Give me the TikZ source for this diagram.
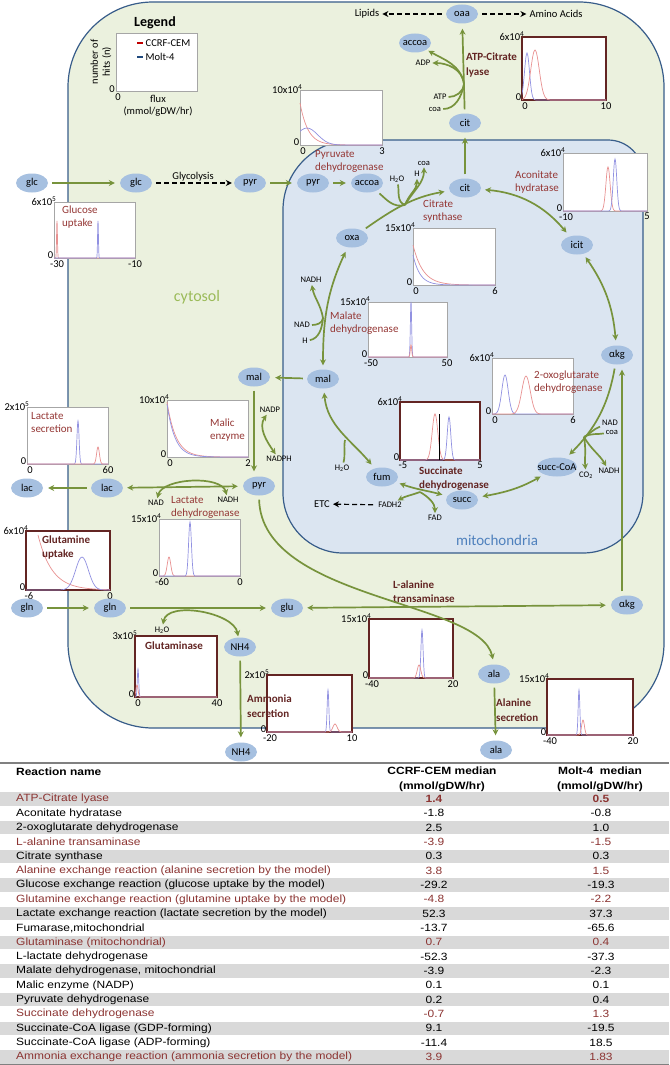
\documentclass[tikz,border=0pt]{standalone}
\usepackage{fontspec}
\setmainfont{Carlito}
\newfontfamily\tablefont[FakeStretch=1.14]{Liberation Sans}
\usetikzlibrary{shapes.geometric,arrows.meta}
\definecolor{cytofill}{RGB}{235,241,222}
\definecolor{mitofill}{RGB}{219,229,241}
\definecolor{membrane}{RGB}{56,93,138}
\definecolor{metabblue}{RGB}{166,192,224}
\definecolor{fluxgreen}{RGB}{119,147,60}
\definecolor{enzred}{RGB}{149,55,53}
\definecolor{boxred}{RGB}{99,37,35}
\definecolor{plotred}{RGB}{232,145,145}
\definecolor{plotblue}{RGB}{145,145,225}
\definecolor{cytogreen}{RGB}{155,187,89}
\definecolor{mitoblue}{RGB}{79,129,189}
\definecolor{rowgray}{RGB}{217,217,217}
\definecolor{rowred}{RGB}{140,52,50}
\definecolor{legred}{RGB}{192,0,0}
\definecolor{legblue}{RGB}{31,73,125}
\newcommand\tenpow[1]{x10\textsuperscript{#1}}
\newcommand\fluxplot[9]{%
  \draw[#1] (#3,#4) rectangle (#5,#6);
  \node (#2-ymax) [tick, anchor=east] at (#3+3,#4-1) {#7};
  \node (#2-zero) [tick, anchor=east] at (#3,#6-3) {0};
  \node (#2-xmin) [tick, anchor=north] at (#3+3,#6+1.5) {#8};
  \node (#2-xmax) [tick, anchor=north] at (#5,#6+1.5) {#9};
}
\newcommand\peak[7]{%
  \pgfmathsetmacro\pka{#5-3.5*#6}%
  \pgfmathsetmacro\pkb{#5+3.5*#6}%
  \begin{scope}
    \clip (#2,#4-90) rectangle (#3,#4+1);
    \draw[#1] (#2,#4) -- (\pka,#4) -- plot[domain=\pka:\pkb, samples=41, smooth]
      (\x,{#4-#7*exp(-((\x-#5)/#6)*((\x-#5)/#6))}) -- (#3,#4);
  \end{scope}
}
\newcommand\decay[6]{%
  \draw[#1] plot[domain=#2:#3, samples=60, smooth] (\x,{#4-#5*exp(-(\x-#2)/#6)});
}
\tikzset{
  metab/.style={ellipse, fill=metabblue, minimum width=32pt, minimum height=19pt,
    inner xsep=-2pt, inner ysep=0pt, font=\fontsize{10.5}{12}\selectfont},
  cofactor/.style={inner sep=1pt, font=\fontsize{8.5}{10}\selectfont},
  sidetext/.style={inner sep=1pt, font=\fontsize{10.5}{12}\selectfont},
  enzyme/.style={align=left, anchor=west, inner sep=0pt, text=enzred,
    font=\fontsize{11}{13.5}\selectfont},
  enzymebold/.style={enzyme, text=boxred, font=\fontsize{11}{14.5}\selectfont\bfseries},
  tick/.style={inner sep=0.5pt, font=\fontsize{10.5}{12}\selectfont},
  plotframe/.style={draw=gray!70, fill=white, line width=0.6pt},
  plotframebold/.style={draw=boxred, fill=white, line width=2pt},
  redline/.style={draw=plotred, line width=0.7pt},
  blueline/.style={draw=plotblue, line width=0.7pt},
  flux/.style={draw=fluxgreen, line width=1.7pt, shorten >=5pt, shorten <=4pt},
  dasharrow/.style={->, draw=black, line width=1.2pt, dash pattern=on 5pt off 3pt,
    shorten >=2pt, shorten <=4pt},
  tabletext/.style={inner sep=0pt, font=\tablefont\fontsize{10.5}{12}\selectfont},
  tablehead/.style={inner sep=0pt, font=\tablefont\fontsize{10.5}{15}\selectfont\bfseries}
}

\begin{document}
\begin{tikzpicture}[x=1pt, y=-1pt, >={Stealth[length=6pt,width=6pt]}]
  \useasboundingbox (0,0) rectangle (669,1065);
  \fill[white] (0,0) rectangle (669,1065);

  \draw[draw=membrane, fill=cytofill, line width=1.2pt, rounded corners=85pt]
    (68,2) rectangle (664,728);
  \path[draw=membrane, fill=mitofill, line width=1.2pt]
    (283,350) [rounded corners=70pt] |- (460,140) [rounded corners=35pt] -| (643,350)
    [rounded corners=60pt] |- (460,553) [rounded corners=60pt] -| (283,350) -- cycle;
  \node (cytolabel) [text=cytogreen, font=\fontsize{16}{18}\selectfont] at (197,297) {cytosol};
  \node (mitolabel) [text=mitoblue, font=\fontsize{15}{18}\selectfont] at (497,540) {mitochondria};

  \node (legtitle) [font=\fontsize{14}{16}\selectfont\bfseries] at (155,23) {Legend};
  \draw[plotframe] (116,33) rectangle (197,91);
  \draw[legred, line width=1.3pt] (137,43) -- (143,43);
  \draw[legblue, line width=1.3pt] (137,57) -- (143,57);
  \node (legcem) [tick, anchor=west] at (145,43) {CCRF-CEM};
  \node (legmolt) [tick, anchor=west] at (145,57) {Molt-4};
  \node (leghits) [tick, rotate=90, align=center] at (101,62) {number of\\hits (n)};
  \node (legzeroy) [tick] at (112,89) {0};
  \node (legzerox) [tick] at (118,97) {0};
  \node (legflux) [tick, align=center] at (158,106) {flux\\(mmol/gDW/hr)};

  \fluxplot{plotframe}{pdh}{300}{90}{382}{145}{10\tenpow{4}}{0}{3}
  \decay{redline}{300}{382}{145}{42}{8}
  \peak{blueline}{300}{382}{145}{307}{15}{17}
  \fluxplot{plotframebold}{acl}{522}{37}{606}{100}{6\tenpow{4}}{0}{10}
  \peak{blueline}{522}{606}{100}{527}{3.5}{47}
  \peak{redline}{522}{606}{100}{535}{6}{50}
  \fluxplot{plotframe}{aco}{563}{153}{647}{211}{6\tenpow{4}}{-10}{5}
  \peak{redline}{563}{647}{211}{608}{3}{44}
  \peak{blueline}{563}{647}{211}{615}{2.5}{52}
  \fluxplot{plotframe}{cs}{413}{228}{495}{285}{15\tenpow{4}}{0}{6}
  \decay{redline}{413}{495}{285}{40}{10}
  \decay{blueline}{413}{495}{285}{30}{7}
  \fluxplot{plotframe}{mdh}{368}{302}{447}{357}{15\tenpow{4}}{-50}{50}
  \peak{blueline}{368}{447}{357}{411}{0.9}{55}
  \peak{redline}{368}{447}{357}{411}{1}{12}
  \fluxplot{plotframe}{akgdh}{492}{358}{573}{414}{6\tenpow{4}}{0}{6}
  \peak{blueline}{492}{573}{414}{505}{4.5}{39}
  \peak{redline}{492}{573}{414}{526}{6}{38}
  \fluxplot{plotframebold}{sdh}{400}{402}{480}{460}{6\tenpow{4}}{-5}{5}
  \peak{redline}{400}{480}{460}{435}{4}{46}
  \peak{blueline}{400}{480}{460}{449}{2.5}{43}
  \draw[black, line width=1pt] (439,460) -- (439,414);
  \fluxplot{plotframe}{me}{167}{400}{248}{457}{10\tenpow{4}}{0}{2}
  \decay{redline}{167}{248}{457}{55}{9}
  \decay{blueline}{167}{248}{457}{53}{8}
  \fluxplot{plotframe}{lacsec}{27}{407}{108}{464}{2\tenpow{5}}{0}{60}
  \peak{blueline}{27}{108}{464}{78}{1.5}{43}
  \peak{redline}{27}{108}{464}{98}{2}{17}
  \fluxplot{plotframe}{ldh}{159}{519}{240}{576}{15\tenpow{4}}{-60}{0}
  \peak{redline}{159}{240}{576}{169}{2.5}{19}
  \peak{blueline}{159}{240}{576}{190}{2}{54}
  \fluxplot{plotframe}{glcup}{54}{202}{135}{258}{6\tenpow{5}}{-30}{-10}
  \peak{redline}{54}{135}{258}{57}{0.6}{37}
  \peak{blueline}{54}{135}{258}{98}{0.6}{37}
  \fluxplot{plotframebold}{glnup}{26}{531}{110}{590}{6\tenpow{4}}{-6}{0}
  \decay{redline}{38}{110}{590}{55}{14}
  \peak{blueline}{26}{110}{590}{82}{9}{33}
  \fluxplot{plotframebold}{glnase}{135}{636}{217}{697}{3\tenpow{5}}{0}{40}
  \peak{blueline}{135}{217}{697}{138}{1}{28}
  \peak{redline}{135}{217}{697}{137}{1.5}{12}
  \fluxplot{plotframebold}{nh4sec}{267}{675}{352}{732}{2\tenpow{5}}{-20}{10}
  \peak{blueline}{267}{352}{732}{328}{1.2}{42}
  \peak{redline}{267}{352}{732}{335}{3}{8}
  \fluxplot{plotframebold}{alt}{369}{619}{453}{678}{15\tenpow{4}}{-40}{20}
  \peak{blueline}{369}{453}{678}{422}{1.5}{48}
  \peak{redline}{369}{453}{678}{419}{2.5}{13}
  \fluxplot{plotframebold}{alasec}{547}{679}{633}{735}{15\tenpow{4}}{-40}{20}
  \peak{blueline}{547}{633}{735}{579}{1.2}{45}
  \peak{redline}{547}{633}{735}{583}{2}{15}

  \node (glcout) [metab] at (32,183) {glc};
  \node (glc) [metab] at (136,183) {glc};
  \node (pyr) [metab] at (250,183) {pyr};
  \node (pyrm) [metab] at (313,183) {pyr};
  \node (accoam) [metab] at (367,183) {accoa};
  \node (citm) [metab] at (465,188) {cit};
  \node (citc) [metab] at (465,123) {cit};
  \node (accoac) [metab] at (415,43) {accoa};
  \node (oaa) [metab] at (462,14) {oaa};
  \node (oxa) [metab] at (352,238) {oxa};
  \node (icit) [metab] at (577,245) {icit};
  \node (akgm) [metab] at (617,355) {αkg};
  \node (malm) [metab] at (323,379) {mal};
  \node (fum) [metab] at (382,477) {fum};
  \node (succ) [metab] at (462,500) {succ};
  \node (succcoa) [metab, minimum width=40pt, inner xsep=-8pt] at (557,467) {succ-CoA};
  \node (malc) [metab] at (254,377) {mal};
  \node (pyrl) [metab] at (259,486) {pyr};
  \node (lac) [metab] at (107,488) {lac};
  \node (lacout) [metab] at (27,488) {lac};
  \node (glnout) [metab] at (27,608) {gln};
  \node (gln) [metab] at (110,608) {gln};
  \node (glu) [metab] at (287,608) {glu};
  \node (nh4) [metab] at (240,647) {NH4};
  \node (akgc) [metab] at (627,605) {αkg};
  \node (ala) [metab] at (494,674) {ala};
  \node (nh4out) [metab] at (241,752) {NH4};
  \node (alaout) [metab] at (496,750) {ala};

  \node (atpa) [cofactor] at (440,97) {ATP};
  \node (coaa) [cofactor] at (435,109) {coa};
  \node (adpa) [cofactor] at (423,63) {ADP};
  \node (h2ocs) [cofactor] at (397,179) {H\textsubscript{2}O};
  \node (hcs) [cofactor] at (417,174) {H};
  \node (coacs) [cofactor] at (424,163) {coa};
  \node (nadhm) [cofactor] at (311,280) {NADH};
  \node (nadm) [cofactor] at (302,325) {NAD};
  \node (hm) [cofactor] at (305,341) {H};
  \node (nadp) [cofactor] at (270,410) {NADP};
  \node (nadph) [cofactor] at (279,459) {NADPH};
  \node (nadl) [cofactor] at (156,503) {NAD};
  \node (nadhl) [cofactor] at (228,500) {NADH};
  \node (h2og) [cofactor] at (162,630) {H\textsubscript{2}O};
  \node (h2of) [cofactor] at (342,468) {H\textsubscript{2}O};
  \node (fadh2) [cofactor] at (390,505) {FADH2};
  \node (fad) [cofactor] at (435,518) {FAD};
  \node (nadk) [cofactor] at (610,423) {NAD};
  \node (coak) [cofactor] at (612,432) {coa};
  \node (co2k) [cofactor] at (586,475) {CO\textsubscript{2}};
  \node (nadhk) [cofactor] at (609,471) {NADH};
  \node (lipids) [sidetext] at (367,14) {Lipids};
  \node (amino) [sidetext] at (556,14) {Amino Acids};
  \node (etc) [sidetext] at (322,504) {ETC};

  \node (pdhtext) [enzyme] at (315,161.5) {Pyruvate\\dehydrogenase};
  \node (cstext) [enzyme] at (423,211) {Citrate\\synthase};
  \node (acotext) [enzyme] at (515,182) {Aconitate\\hydratase};
  \node (mdhtext) [enzyme] at (330,323) {Malate\\dehydrogenase};
  \node (akgdhtext) [enzyme] at (534,382) {2-oxoglutarate\\dehydrogenase};
  \node (metext) [enzyme] at (210,430) {Malic\\enzyme};
  \node (lacsectext) [enzyme] at (31,422.5) {Lactate\\secretion};
  \node (ldhtext) [enzyme] at (171,507.5) {Lactate\\dehydrogenase};
  \node (glcuptext) [enzyme] at (62,217) {Glucose\\uptake};
  \node (acltext) [enzymebold] at (466,65) {ATP-Citrate\\lyase};
  \node (sdhtext) [enzymebold] at (419,478.5) {Succinate\\dehydrogenase};
  \node (glnuptext) [enzymebold] at (42,547.5) {Glutamine\\uptake};
  \node (glnasetext) [enzymebold] at (145,646) {Glutaminase};
  \node (nh4sectext) [enzymebold] at (247,706) {Ammonia\\secretion};
  \node (alttext) [enzymebold] at (393,591.5) {L-alanine\\transaminase};
  \node (alasectext) [enzymebold] at (496,710) {Alanine\\secretion};

  \coordinate (aclj) at (464,84);
  \coordinate (csj) at (405,205);
  \coordinate (mdhj) at (323,318);
  \coordinate (akgj) at (584,437);
  \coordinate (sdhj) at (420,492);
  \coordinate (fumj) at (345,440);

  \draw[dasharrow] (glc) -- node (glyco) [above, sidetext] {Glycolysis} (pyr);
  \draw[dasharrow] (oaa) -- (lipids);
  \draw[dasharrow] (oaa) -- (amino);
  \draw[dasharrow] (fadh2) -- (etc);

  \begin{scope}[flux, ->]
    \draw (glcout) -- (glc);
    \draw (pyr) -- (pyrm);
    \draw (pyrm) -- (accoam);
    \draw (oxa) to[out=35, in=190] (citm);
    \draw[-, shorten >=0pt] (accoam) to[out=-40, in=195] (csj);
    \draw[-, shorten >=0pt, shorten <=1pt] (h2ocs) to[out=-80, in=160] (csj);
    \draw[shorten <=0pt, shorten >=1pt] (csj) to[out=70, in=-90] (hcs);
    \draw[shorten <=0pt, shorten >=1pt] (csj) to[out=60, in=-90] (coacs);
    \draw (citm) -- (citc);
    \draw (citc) -- (oaa);
    \draw[-, shorten >=0pt, shorten <=1pt] (atpa) to[out=0, in=-95] (aclj);
    \draw[-, shorten >=0pt, shorten <=1pt] (coaa) to[out=0, in=-100] (aclj);
    \draw[shorten <=0pt, shorten >=1pt] (aclj) to[out=95, in=0] (adpa);
    \draw[shorten <=0pt, shorten >=2pt] (aclj) to[out=100, in=-30] (accoac);
    \draw[<->] (citm) to[out=-5, in=130] (icit);
    \draw[<->] (icit) to[out=-55, in=95] (akgm);
    \draw (akgm) to[out=-100, in=45] (succcoa);
    \draw[-, shorten >=0pt, shorten <=1pt] (nadk) to[out=200, in=30] (akgj);
    \draw[-, shorten >=0pt, shorten <=1pt] (coak) to[out=190, in=30] (akgj);
    \draw[shorten <=0pt, shorten >=1pt] (akgj) to[out=-80, in=95] (co2k);
    \draw[shorten <=0pt, shorten >=1pt] (akgj) to[out=-60, in=120] (nadhk);
    \draw[<->] (succcoa) to[out=-150, in=10] (succ);
    \draw[<->] (fum) to[out=-20, in=165] (succ);
    \draw[shorten <=0pt, shorten >=1pt] (sdhj) to[out=-160, in=30] (fadh2);
    \draw[shorten <=0pt, shorten >=1pt] (sdhj) to[out=-30, in=90] (fad);
    \draw[<->] (malm) to[out=-85, in=130] (fum);
    \draw[-, shorten >=0pt, shorten <=1pt] (h2of) to[out=75, in=-100] (fumj);
    \draw[<->] (malm) to[out=90, in=-115] (oxa);
    \draw[-, shorten >=0pt, shorten <=1pt] (nadm) to[out=0, in=-95] (mdhj);
    \draw[-, shorten >=0pt, shorten <=1pt] (hm) to[out=10, in=-95] (mdhj);
    \draw[shorten <=0pt, shorten >=1pt] (mdhj) to[out=100, in=-80] (nadhm);
    \draw (malm) -- (malc);
    \draw (malc.south) -- (malc.south |- pyrl.north);
    \draw[<->, shorten <=1pt, shorten >=1pt] (nadp) to[out=-125, in=125] (nadph);
    \draw[<->] (lac) -- (pyrl);
    \draw (lac) -- (lacout);
    \draw[<->, shorten <=1pt, shorten >=1pt] (nadl) to[out=75, in=105, looseness=0.8] (nadhl);
    \draw (glnout) -- (gln);
    \draw (gln) -- (glu);
    \draw[<->, shorten <=1pt, shorten >=1pt] (h2og) to[out=80, in=100, looseness=0.85] (nh4);
    \draw (nh4) -- (nh4out);
    \draw[<->] (glu) -- (akgc);
    \draw (pyrl.south) .. controls (262,600) and (480,600) .. (ala.north);
    \draw ([xshift=-5pt]akgc.north) -- ([xshift=5pt]akgm.south);
    \draw (ala) -- (alaout);
  \end{scope}

  \draw[gray, line width=1.5pt] (0,763) -- (669,763);
  \node (hdrname) [tablehead, anchor=west] at (16,772) {Reaction name};
  \node (hdrcem) [tablehead, align=center] at (442,779.5) {CCRF-CEM median\\(mmol/gDW/hr)};
  \node (hdrmolt) [tablehead, align=center] at (600,779.5) {Molt-4\ \ median\\(mmol/gDW/hr)};
  \foreach \rxn/\cem/\molt/\rowcol [count=\i] in {
    {ATP-Citrate lyase}/\textbf{1.4}/\textbf{0.5}/rowred,
    {Aconitate hydratase}/-1.8/-0.8/black,
    {2-oxoglutarate dehydrogenase}/2.5/1.0/black,
    {L-alanine transaminase}/-3.9/-1.5/rowred,
    {Citrate synthase}/0.3/0.3/black,
    {Alanine exchange reaction (alanine secretion by the model)}/3.8/1.5/rowred,
    {Glucose exchange reaction (glucose uptake by the model)}/-29.2/-19.3/black,
    {Glutamine exchange reaction (glutamine uptake by the model)}/-4.8/-2.2/rowred,
    {Lactate exchange reaction (lactate secretion by the model)}/52.3/37.3/black,
    {Fumarase,mitochondrial}/-13.7/-65.6/black,
    {Glutaminase (mitochondrial)}/0.7/0.4/rowred,
    {L-lactate dehydrogenase}/-52.3/-37.3/black,
    {Malate dehydrogenase, mitochondrial}/-3.9/-2.3/black,
    {Malic enzyme (NADP)}/0.1/0.1/black,
    {Pyruvate dehydrogenase}/0.2/0.4/black,
    {Succinate dehydrogenase}/-0.7/1.3/rowred,
    {Succinate-CoA ligase (GDP-forming)}/9.1/-19.5/black,
    {Succinate-CoA ligase (ADP-forming)}/-11.4/18.5/black,
    {Ammonia exchange reaction (ammonia secretion by the model)}/3.9/1.83/rowred}{
    \pgfmathsetmacro\rowy{799+14.33*(\i-1)}
    \ifodd\i \fill[rowgray] (0,\rowy-6.6) rectangle (669,\rowy+6.6); \fi
    \node (rxn-\i) [tabletext, text=\rowcol, anchor=west] at (16,\rowy) {\rxn};
    \node (cem-\i) [tabletext, text=\rowcol] at (434,\rowy) {\cem};
    \node (molt-\i) [tabletext, text=\rowcol] at (601,\rowy) {\molt};
  }
  \draw[gray, line width=0.8pt] (0,1064.5) -- (669,1064.5);
\end{tikzpicture}
\end{document}
